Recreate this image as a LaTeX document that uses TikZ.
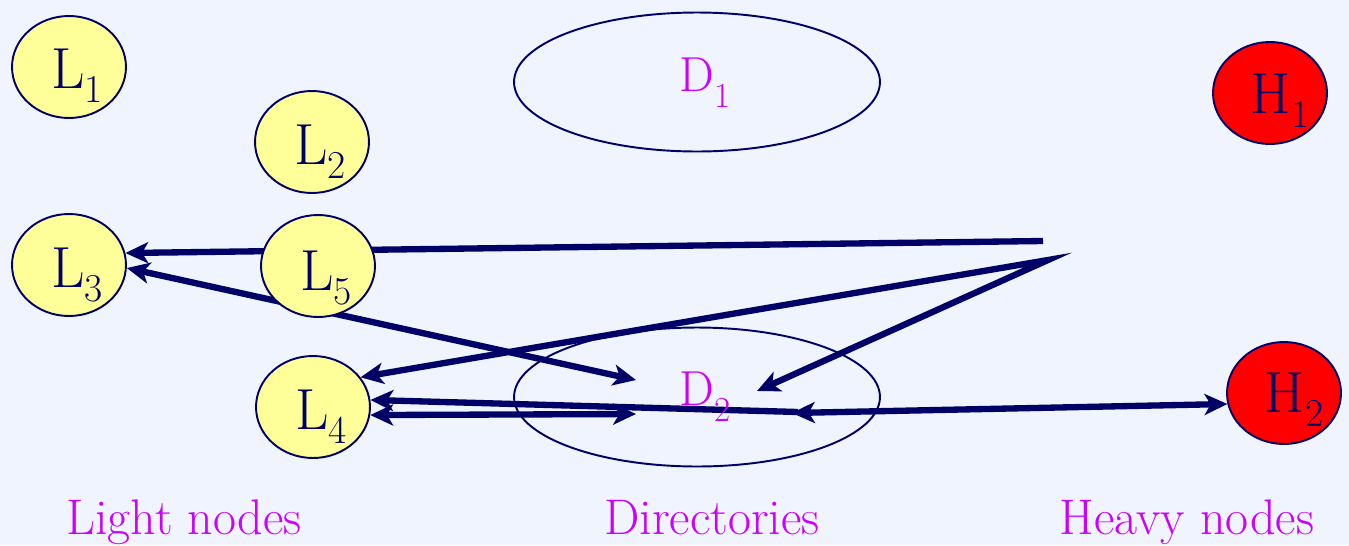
\documentclass[tikz,border=0pt]{standalone}
\usepackage{fontspec}
\usetikzlibrary{shapes.geometric,arrows.meta}
\definecolor{bg}{HTML}{F0F4FF}
\definecolor{navy}{HTML}{000066}
\definecolor{lyellow}{HTML}{FFFF99}
\definecolor{hred}{HTML}{FF0000}
\definecolor{mag}{HTML}{CC00FF}
\newcommand{\nodetxt}[2]{{\fontsize{33}{36}\selectfont #1\raisebox{-8.5pt}{\fontsize{22.5}{24}\selectfont #2}}}
\newcommand{\dirtxt}[2]{{\fontsize{28}{30}\selectfont #1\raisebox{-9.5pt}{\fontsize{20}{22}\selectfont #2}}}
\tikzset{
  light/.style={ellipse, draw=navy, line width=1.1pt, fill=lyellow, minimum width=2.28cm, minimum height=2.04cm, inner sep=0pt},
  heavy/.style={ellipse, draw=navy, line width=1.1pt, fill=hred, minimum width=2.28cm, minimum height=2.04cm, inner sep=0pt},
  dirbox/.style={ellipse, draw=navy, line width=1.1pt, minimum width=7.32cm, minimum height=2.78cm, inner sep=0pt},
  ntext/.style={anchor=base, text=navy, inner sep=0pt},
  dtext/.style={anchor=base, text=mag, inner sep=0pt},
  caption/.style={anchor=base, text=mag, inner sep=0pt, font=\fontsize{28.5}{32}\selectfont},
  conn/.style={draw=navy, line width=3.6pt},
  tip/.tip={Stealth[length=13pt,width=12pt,inset=3.5pt]},
}
\begin{document}
\begin{tikzpicture}[x=0.02cm, y=-0.02cm]
\fill[bg] (0,0) rectangle (1349,545);
\useasboundingbox (0,0) rectangle (1349,545);

% directories
\node[dirbox] (D1) at (697,82) {};
\node[dirbox] (D2) at (697,397) {};

% placeholder nodes for geometry (drawn later on top)
\path (69,265) node[light, draw=none, fill=none] (L3) {};
\path (313,407) node[light, draw=none, fill=none] (L4) {};
\path (1284,393) node[heavy, draw=none, fill=none] (H2) {};

% free ends of connectors
\coordinate (s1) at (1043,241);
\coordinate (s2) at (1048,260);
\coordinate (a1) at (636,380);
\coordinate (a2) at (757,391);
\coordinate (a3) at (636,414);
\coordinate (a4) at (798,412);
\coordinate (a5) at (792,413);

% connectors
\draw[conn, -tip] (s1) -- (L3.12);
\draw[conn, tip-tip] (a1) -- (L3.-3);
\draw[conn, line join=miter, tip-tip] (L4.32) -- (s2) -- (a2);
\draw[conn, -tip] (a4) -- (L4.7);
\draw[conn, tip-tip] (a3) -- (L4.-8);
\draw[conn, tip-tip] (a5) -- (H2.191);

% nodes
\node[light] (L1n) at (69,67) {};
\node[light] (L2n) at (312,142) {};
\node[light] (L3n) at (69,265) {};
\node[light] (L5n) at (318,266) {};
\node[light] (L4n) at (313,407) {};
\node[heavy] (H1n) at (1270,93) {};
\node[heavy] (H2n) at (1284,393) {};

% node labels
\node[ntext] (L1t) at ([shift={(8,21)}]L1n.center) {\nodetxt{L}{1}};
\node[ntext] (L2t) at ([shift={(8,22)}]L2n.center) {\nodetxt{L}{2}};
\node[ntext] (L3t) at ([shift={(8,22)}]L3n.center) {\nodetxt{L}{3}};
\node[ntext] (L5t) at ([shift={(8,24)}]L5n.center) {\nodetxt{L}{5}};
\node[ntext] (L4t) at ([shift={(8,22)}]L4n.center) {\nodetxt{L}{4}};
\node[ntext] (H1t) at ([shift={(10,20)}]H1n.center) {\nodetxt{H}{1}};
\node[ntext] (H2t) at ([shift={(10,19)}]H2n.center) {\nodetxt{H}{2}};
\node[dtext] (D1t) at ([shift={(8,9)}]D1.center) {\dirtxt{D}{1}};
\node[dtext] (D2t) at ([shift={(8,8)}]D2.center) {\dirtxt{D}{2}};

% captions
\node[caption] (cap1) at (184,534) {Light nodes};
\node[caption] (cap2) at (712,534) {Directories};
\node[caption] (cap3) at (1187,534) {Heavy nodes};
\end{tikzpicture}
\end{document}
